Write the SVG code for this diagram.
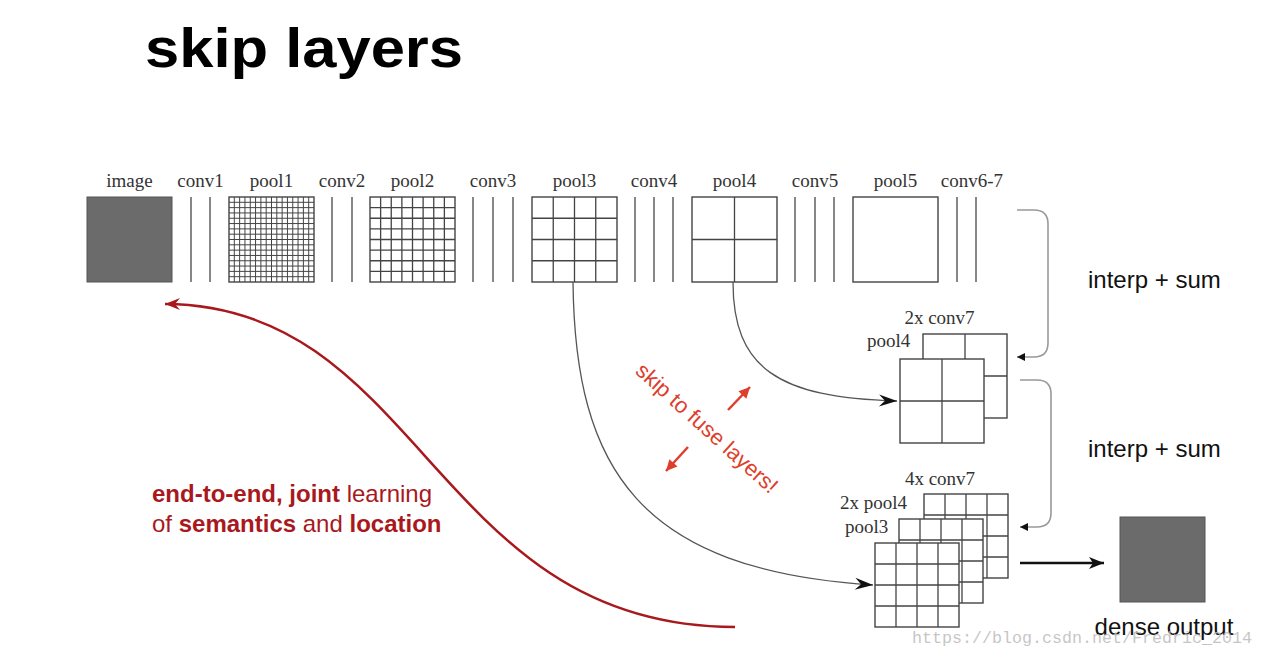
<svg xmlns="http://www.w3.org/2000/svg" width="1264" height="664" viewBox="0 0 1264 664">
<style>
.lbl{font-family:"Liberation Serif","Times New Roman",serif;font-size:19px;fill:#333}
.sans{font-family:"Liberation Sans",Arial,sans-serif}
.box{fill:#fff;stroke:#444;stroke-width:1.4}
.grid{fill:none;stroke:#444;stroke-width:1.3}
.fine{fill:none;stroke:#444;stroke-width:1}
.conv{stroke:#555;stroke-width:1.4}
.dense{fill:#6b6b6b;stroke:#555;stroke-width:1}
.gray{fill:none;stroke:#555;stroke-width:1.3}
.brk{fill:none;stroke:#999;stroke-width:1.6}
.red{fill:#a8181c}
</style>
<defs>
<marker id="stealth" markerUnits="userSpaceOnUse" viewBox="-20 -8 22 16" refX="0" refY="0" markerWidth="22" markerHeight="16" orient="auto">
<path d="M0,0 L-18,-6 L-12,0 L-18,6 Z" fill="#111"/>
</marker>
<marker id="small" markerUnits="userSpaceOnUse" viewBox="-10 -6 12 12" refX="0" refY="0" markerWidth="12" markerHeight="12" orient="auto">
<path d="M0,0 L-8,-4 L-8,4 Z" fill="#111"/>
</marker>
<marker id="thick" markerUnits="userSpaceOnUse" viewBox="-16 -8 18 16" refX="0" refY="0" markerWidth="18" markerHeight="16" orient="auto">
<path d="M0,0 L-15,-6 L-11,0 L-15,6 Z" fill="#111"/>
</marker>
<marker id="redhead" markerUnits="userSpaceOnUse" viewBox="-16 -8 18 16" refX="0" refY="0" markerWidth="18" markerHeight="16" orient="auto">
<path d="M0,0 L-15,-6 L-10,0 L-15,6 Z" fill="#a8181c"/>
</marker>
<marker id="orange" markerUnits="userSpaceOnUse" viewBox="-12 -7 14 14" refX="0" refY="0" markerWidth="14" markerHeight="14" orient="auto">
<path d="M0,0 L-11,-5.5 L-11,5.5 Z" fill="#dd3f2c"/>
</marker>
</defs>
<rect width="1264" height="664" fill="#fff"/>

<g id="title">
<text x="145" y="67" class="sans" font-size="56" font-weight="bold" fill="#000" textLength="318" lengthAdjust="spacingAndGlyphs">skip layers</text>
</g>

<g id="image">
<text x="129.5" y="187" class="lbl" text-anchor="middle">image</text>
<rect x="87" y="197" width="85" height="85" class="dense"/>
</g>
<g id="conv1">
<text x="200.5" y="187" class="lbl" text-anchor="middle">conv1</text>
<path d="M191,197V282M210,197V282" class="conv"/>
</g>
<g id="pool1">
<text x="271.5" y="187" class="lbl" text-anchor="middle">pool1</text>
<rect x="229" y="197" width="85" height="85" class="box"/>
<path class="fine" d="M234.31,197V282M239.63,197V282M244.94,197V282M250.25,197V282M255.56,197V282M260.88,197V282M266.19,197V282M271.5,197V282M276.81,197V282M282.13,197V282M287.44,197V282M292.75,197V282M298.06,197V282M303.38,197V282M308.69,197V282M229,202.31H314M229,207.63H314M229,212.94H314M229,218.25H314M229,223.56H314M229,228.88H314M229,234.19H314M229,239.5H314M229,244.81H314M229,250.13H314M229,255.44H314M229,260.75H314M229,266.06H314M229,271.38H314M229,276.69H314"/>
</g>
<g id="conv2">
<text x="342" y="187" class="lbl" text-anchor="middle">conv2</text>
<path d="M332,197V282M352,197V282" class="conv"/>
</g>
<g id="pool2">
<text x="412.5" y="187" class="lbl" text-anchor="middle">pool2</text>
<rect x="370" y="197" width="85" height="85" class="box"/>
<path class="grid" d="M380.63,197V282M391.25,197V282M401.88,197V282M412.5,197V282M423.13,197V282M433.75,197V282M444.38,197V282M370,207.63H455M370,218.25H455M370,228.88H455M370,239.5H455M370,250.13H455M370,260.75H455M370,271.38H455"/>
</g>
<g id="conv3">
<text x="493" y="187" class="lbl" text-anchor="middle">conv3</text>
<path d="M473,197V282M493,197V282M513,197V282" class="conv"/>
</g>
<g id="pool3">
<text x="574.5" y="187" class="lbl" text-anchor="middle">pool3</text>
<rect x="532" y="197" width="85" height="85" class="box"/>
<path class="grid" d="M553.25,197V282M574.5,197V282M595.75,197V282M532,218.25H617M532,239.5H617M532,260.75H617"/>
</g>
<g id="conv4">
<text x="654" y="187" class="lbl" text-anchor="middle">conv4</text>
<path d="M635,197V282M654,197V282M673,197V282" class="conv"/>
</g>
<g id="pool4">
<text x="734.5" y="187" class="lbl" text-anchor="middle">pool4</text>
<rect x="692" y="197" width="85" height="85" class="box"/>
<path class="grid" d="M734.5,197V282M692,239.5H777"/>
</g>
<g id="conv5">
<text x="815" y="187" class="lbl" text-anchor="middle">conv5</text>
<path d="M795,197V282M815,197V282M834,197V282" class="conv"/>
</g>
<g id="pool5">
<text x="895.5" y="187" class="lbl" text-anchor="middle">pool5</text>
<rect x="853" y="197" width="85" height="85" class="box"/>
</g>
<g id="conv6-7">
<text x="972" y="187" class="lbl" text-anchor="middle">conv6-7</text>
<path d="M957,197V282M976,197V282" class="conv"/>
</g>

<g id="fuse1">
<text x="939.5" y="324" class="lbl" text-anchor="middle">2x conv7</text>
<text x="867" y="347" class="lbl">pool4</text>
<rect x="923" y="334" width="84" height="84" class="box"/>
<path class="grid" d="M965,334V418M923,376H1007"/>
<rect x="900" y="359" width="84" height="84" class="box"/>
<path class="grid" d="M942,359V443M900,401H984"/>
</g>

<g id="fuse2">
<text x="940" y="485" class="lbl" text-anchor="middle">4x conv7</text>
<text x="840" y="509" class="lbl">2x pool4</text>
<text x="845" y="533" class="lbl">pool3</text>
<rect x="924" y="494" width="84" height="84" class="box"/>
<path class="grid" d="M945,494V578M966,494V578M987,494V578M924,515H1008M924,536H1008M924,557H1008"/>
<rect x="899" y="519" width="84" height="84" class="box"/>
<path class="grid" d="M920,519V603M941,519V603M962,519V603M899,540H983M899,561H983M899,582H983"/>
<rect x="875" y="543" width="84" height="84" class="box"/>
<path class="grid" d="M896,543V627M917,543V627M938,543V627M875,564H959M875,585H959M875,606H959"/>
</g>

<g id="output">
<rect x="1120" y="517" width="85" height="85" class="dense"/>
<text x="1164" y="635" class="sans" font-size="24" fill="#111" text-anchor="middle">dense output</text>
</g>

<g id="labels">
<text x="1088" y="288" class="sans" font-size="24" fill="#111">interp + sum</text>
<text x="1088" y="457" class="sans" font-size="24" fill="#111">interp + sum</text>
<text x="152" y="502" class="sans red" font-size="24"><tspan font-weight="bold">end-to-end, joint</tspan> learning</text>
<text x="152" y="532" class="sans red" font-size="24">of <tspan font-weight="bold">semantics</tspan> and <tspan font-weight="bold">location</tspan></text>
<text transform="translate(707,428) rotate(42)" class="sans" font-size="22" fill="#dd3f2c" text-anchor="middle" dominant-baseline="central">skip to fuse layers!</text>
</g>

<g id="connectors">
<path class="gray" d="M733,282 C733,368 778,398 897,401" marker-end="url(#stealth)"/>
<path class="gray" d="M573,282 C575,470 640,570 873,585" marker-end="url(#stealth)"/>
<path class="brk" d="M1017,210 H1034 Q1048,210 1048,224 V343 Q1048,357 1034,357 H1017" marker-end="url(#small)"/>
<path class="brk" d="M1020,380 H1037 Q1051,380 1051,394 V513 Q1051,527 1037,527 H1020" marker-end="url(#small)"/>
<path d="M1020,563 H1104" stroke="#111" stroke-width="2.5" fill="none" marker-end="url(#thick)"/>
<path d="M735,627 C435,627 422,305 165,304" stroke="#a8181c" stroke-width="2.5" fill="none" marker-end="url(#redhead)"/>
<path d="M728,410 L750,387" stroke="#dd3f2c" stroke-width="2.5" fill="none" marker-end="url(#orange)"/>
<path d="M688,447 L666,471" stroke="#dd3f2c" stroke-width="2.5" fill="none" marker-end="url(#orange)"/>
</g>

<g id="watermark">
<text x="912" y="643" font-family="Liberation Mono, monospace" font-size="16.7" fill="#bbb" fill-opacity="0.85" textLength="340" lengthAdjust="spacingAndGlyphs">https://blog.csdn.net/Fredric_2014</text>
</g>
</svg>
